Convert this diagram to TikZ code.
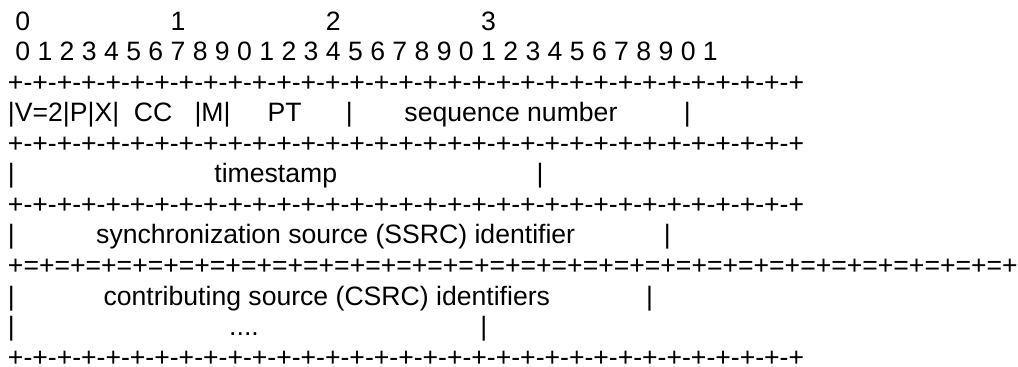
\documentclass[tikz,border=0pt]{standalone}
\usepackage{fontspec}
\setmainfont{Liberation Sans}
\newcommand\Sp[1]{\hskip#1\fontdimen2\font\relax}
\begin{document}
\begin{tikzpicture}[x=1pt,y=1pt,
  txt/.style={anchor=base west, inner sep=0pt, outer sep=0pt,
    font=\fontsize{26.6pt}{30.56pt}\selectfont, text=black}]
\useasboundingbox[fill=white] (0,0) rectangle (1018,-367);
\node[txt] (l1) at (8,-30.00) {\Sp{1}0\Sp{19}1\Sp{19}2\Sp{19}3};
\node[txt] (l2) at (8,-60.56) {\Sp{1}0 1 2 3 4 5 6 7 8 9 0 1 2 3 4 5 6 7 8 9 0 1 2 3 4 5 6 7 8 9 0 1};
\node[txt] (l3) at (8,-91.12) {+-+-+-+-%
+-+-+-+-%
+-+-+-+-%
+-+-+-+-%
+-+-+-+-%
+-+-+-+-%
+-+-+-+-%
+-+-+-+-%
+};
\node[txt] (l4) at (8,-121.68) {|V=2|P|X|\Sp{2}CC\Sp{3}|M|\Sp{5}PT\Sp{6}|\Sp{7}sequence number\Sp{9}|};
\node[txt] (l5) at (8,-152.24) {+-+-+-+-%
+-+-+-+-%
+-+-+-+-%
+-+-+-+-%
+-+-+-+-%
+-+-+-+-%
+-+-+-+-%
+-+-+-+-%
+};
\node[txt] (l6) at (8,-182.80) {|\Sp{27}timestamp\Sp{27}|};
\node[txt] (l7) at (8,-213.36) {+-+-+-+-%
+-+-+-+-%
+-+-+-+-%
+-+-+-+-%
+-+-+-+-%
+-+-+-+-%
+-+-+-+-%
+-+-+-+-%
+};
\node[txt] (l8) at (8,-243.92) {|\Sp{11}synchronization source (SSRC) identifier\Sp{12}|};
\node[txt] (l9) at (8,-274.48) {+=+=+=+=%
+=+=+=+=%
+=+=+=+=%
+=+=+=+=%
+=+=+=+=%
+=+=+=+=%
+=+=+=+=%
+=+=+=+=%
+};
\node[txt] (l10) at (8,-305.04) {|\Sp{12}contributing source (CSRC) identifiers\Sp{13}|};
\node[txt] (l11) at (8,-335.60) {|\Sp{29}....\Sp{30}|};
\node[txt, text depth=0pt] (l12) at (8,-366.16) {+-+-+-+-%
+-+-+-+-%
+-+-+-+-%
+-+-+-+-%
+-+-+-+-%
+-+-+-+-%
+-+-+-+-%
+-+-+-+-%
+};
\end{tikzpicture}
\end{document}
